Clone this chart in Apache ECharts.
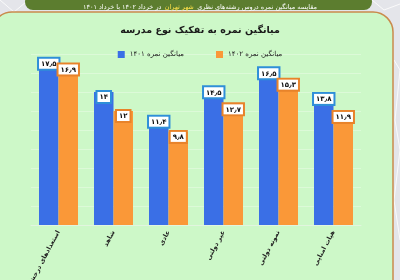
<!DOCTYPE html>
<html><head><meta charset="utf-8">
<script src="https://cdn.jsdelivr.net/npm/echarts@6/dist/echarts.min.js"></script>
<style>html,body{margin:0;padding:0;background:#e4e5ea}#c{width:400px;height:280px}</style>
</head><body><div id="c"></div>
<script>
const categories = ['استعدادهای درخشان', 'شاهد', 'عادی', 'غیر دولتی', 'نمونه دولتی', 'هیات امنایی'];
const series1401 = [17.5, 14, 11.4, 14.5, 16.5, 13.8];
const series1402 = [16.9, 12, 9.8, 12.7, 15.3, 11.9];
const seriesNames = ['میانگین نمره ۱۴۰۱', 'میانگین نمره ۱۴۰۲'];
const yTicks = [0, 2, 4, 6, 8, 10, 12, 14, 16, 18];

const FONT = '"DejaVu Sans", "Noto Sans", sans-serif';
function toFa(v) {
  return String(v).replace('.', '٫').replace(/[0-9]/g, d => '۰۱۲۳۴۵۶۷۸۹'[d]);
}
const BLUE = '#3a6fe6', ORANGE = '#fa9838';

const chart = echarts.init(document.getElementById('c'), null, {renderer: 'canvas'});
function barLabel(color) {
  return {
    show: true, position: 'insideTop', distance: 0,
    formatter: p => toFa(p.value),
    backgroundColor: '#fff', borderColor: color, borderWidth: 2,
    padding: [2, 2, 1, 2], color: '#111', fontSize: 7, fontWeight: 'bold', fontFamily: FONT
  };
}
chart.setOption({
  backgroundColor: '#e4e5ea',
  animation: false,
  graphic: [
    {type: 'polyline', z: 0, silent: true, shape: {points: [[0, 0], [14, 12], [26, 2]]}, style: {stroke: '#fafafa', fill: null, lineWidth: 1}},
    {type: 'polyline', z: 0, silent: true, shape: {points: [[372, 0], [384, 10], [400, 4]]}, style: {stroke: '#fafafa', fill: null, lineWidth: 1}},
    {type: 'polyline', z: 0, silent: true, shape: {points: [[394, 60], [400, 70], [395, 120], [400, 150], [394, 200], [400, 240]]}, style: {stroke: '#fafafa', fill: null, lineWidth: 1}},
    {type: 'rect', z: 0, silent: true, shape: {x: -8, y: 12, width: 401, height: 300, r: [20, 20, 0, 0]},
      style: {fill: '#cdf8c8', stroke: '#c98a4c', lineWidth: 1.5}},
    {type: 'rect', z: 1, silent: true, shape: {x: 25, y: -6, width: 347, height: 16, r: 8},
      style: {fill: '#5c7d2f'}},
    {type: 'text', z: 2, silent: true, left: 'center', top: 1,
      style: {
        text: '{w|در خرداد ۱۴۰۲ با خرداد ۱۴۰۱} {y|شهر تهران} {w|مقایسه میانگین نمره دروس رشته‌های نظری}',
        rich: {
          w: {fill: '#ffffff', fontSize: 6.5, fontFamily: FONT},
          y: {fill: '#ffe24a', fontSize: 6.5, fontFamily: FONT}
        }
      }}
  ],
  title: {
    text: 'میانگین نمره به تفکیک نوع مدرسه', left: 'center', top: 21,
    textStyle: {fontSize: 9.5, fontWeight: 'bold', color: '#1a1a1a', fontFamily: FONT}
  },
  legend: {
    top: 46, left: 'center', itemWidth: 7, itemHeight: 7, itemGap: 32, icon: 'rect',
    textStyle: {fontSize: 7, color: '#222', fontFamily: FONT},
    data: seriesNames
  },
  grid: {left: 31, right: 39, top: 54, bottom: 55, containLabel: false, outerBoundsMode: 'none'},
  xAxis: {
    type: 'category', data: categories,
    axisLine: {lineStyle: {color: '#e2f5df', width: 1}},
    axisTick: {show: false},
    axisLabel: {rotate: 62, fontSize: 6.5, fontWeight: 'bold', color: '#222', fontFamily: FONT, margin: 6, interval: 0}
  },
  yAxis: {
    type: 'value', min: yTicks[0], max: yTicks[yTicks.length - 1], interval: 2,
    axisLabel: {show: false}, axisLine: {show: false}, axisTick: {show: false},
    splitLine: {lineStyle: {color: '#dcfad8', width: 1}}
  },
  series: [
    {name: seriesNames[0], type: 'bar', data: series1401, barWidth: 19.5, barGap: '0%',
      itemStyle: {color: BLUE}, label: barLabel('#2f8fd8')},
    {name: seriesNames[1], type: 'bar', data: series1402, barWidth: 19.5, barGap: '0%',
      itemStyle: {color: ORANGE}, label: barLabel('#e8832a')}
  ]
});
</script></body></html>
